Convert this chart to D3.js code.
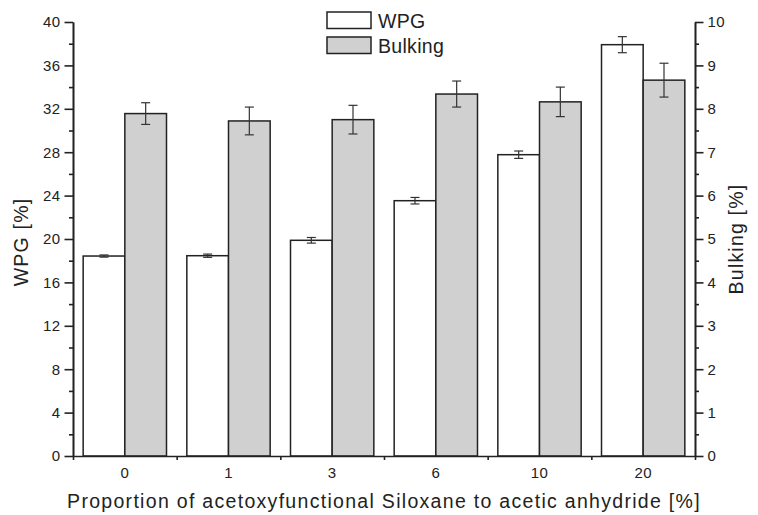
<!DOCTYPE html>
<html>
<head>
<meta charset="utf-8">
<script src="https://cdn.jsdelivr.net/npm/d3@7"></script>
<style>
  body { margin: 0; background: #fff; }
  text { font-family: "Liberation Sans", Arial, sans-serif; fill: #222; }
</style>
</head>
<body>
<div id="chart"></div>
<script>
'use strict'

// data
const categories = ['0', '1', '3', '6', '10', '20']
const wpg = [18.43, 18.46, 19.88, 23.53, 27.77, 37.91]
const wpgErr = [0.1, 0.15, 0.26, 0.3, 0.34, 0.74]
const bulking = [7.89, 7.72, 7.75, 8.34, 8.16, 8.66]
const bulkingErr = [0.25, 0.32, 0.33, 0.3, 0.34, 0.39]
const seriesNames = ['WPG', 'Bulking']
const leftTicks = [0, 4, 8, 12, 16, 20, 24, 28, 32, 36, 40]
const rightTicks = [0, 1, 2, 3, 4, 5, 6, 7, 8, 9, 10]

const svgWidth = 758
const svgHeight = 515
const margin = { left: 73, right: 63, top: 22, bottom: 59 }
const width = svgWidth - margin.left - margin.right
const height = svgHeight - margin.top - margin.bottom

const ink = '#222'
const fills = { WPG: '#ffffff', Bulking: '#d0d0d0' }

const svg = d3.select('#chart').append('svg')
    .attr('width', svgWidth)
    .attr('height', svgHeight)
    .append('g')
    .attr('transform', 'translate(' + margin.left + ',' + margin.top + ')')

// scales
const xScale = d3.scaleBand()
    .domain(categories)
    .range([0, width])
    .padding(0)

const xInner = d3.scaleBand()
    .domain(seriesNames)
    .range([0, xScale.bandwidth()])
    .paddingInner(0)
    .paddingOuter(0.244)

const yLeft = d3.scaleLinear().domain([0, 40]).range([height, 0])
const yRight = d3.scaleLinear().domain([0, 10]).range([height, 0])

// rows for drawing
const rows = categories.map((c, i) => [
    { cat: c, key: 'WPG', y: yLeft, v: wpg[i], e: wpgErr[i] },
    { cat: c, key: 'Bulking', y: yRight, v: bulking[i], e: bulkingErr[i] }
]).flat()

// bars
svg.selectAll('.bar')
    .data(rows)
    .enter()
    .append('rect')
    .attr('class', 'bar')
    .attr('x', d => xScale(d.cat) + xInner(d.key))
    .attr('y', d => d.y(d.v))
    .attr('width', xInner.bandwidth())
    .attr('height', d => height - d.y(d.v))
    .attr('fill', d => fills[d.key])
    .attr('stroke', ink)
    .attr('stroke-width', 1.5)

// error bars
const capW = 4.5
const err = svg.selectAll('.err')
    .data(rows)
    .enter()
    .append('g')
    .attr('class', 'err')
    .attr('stroke', '#333')
    .attr('stroke-width', 1.2)
    .attr('transform', d => 'translate(' + (xScale(d.cat) + xInner(d.key) + xInner.bandwidth() / 2) + ',0)')

err.append('line')
    .attr('y1', d => d.y(d.v + d.e))
    .attr('y2', d => d.y(d.v - d.e))
err.append('line')
    .attr('x1', -capW).attr('x2', capW)
    .attr('y1', d => d.y(d.v + d.e)).attr('y2', d => d.y(d.v + d.e))
err.append('line')
    .attr('x1', -capW).attr('x2', capW)
    .attr('y1', d => d.y(d.v - d.e)).attr('y2', d => d.y(d.v - d.e))

// left axis
const minorLeft = d3.range(0, 41, 2).filter(v => v % 4 !== 0)
svg.append('g')
    .attr('class', 'axis')
    .call(d3.axisLeft(yLeft).tickValues(minorLeft).tickSize(4).tickFormat('').tickSizeOuter(0))
svg.append('g')
    .attr('class', 'axis')
    .call(d3.axisLeft(yLeft).tickValues(leftTicks).tickSize(8.5).tickPadding(4).tickSizeOuter(0))

// right axis
const minorRight = d3.range(0.5, 10, 1)
svg.append('g')
    .attr('class', 'axis')
    .attr('transform', 'translate(' + width + ',0)')
    .call(d3.axisRight(yRight).tickValues(minorRight).tickSize(4).tickFormat('').tickSizeOuter(0))
svg.append('g')
    .attr('class', 'axis')
    .attr('transform', 'translate(' + width + ',0)')
    .call(d3.axisRight(yRight).tickValues(rightTicks).tickSize(8.5).tickPadding(4).tickSizeOuter(0))

// bottom axis: ticks at group boundaries, labels at group centres
const boundaries = d3.range(categories.length + 1).map(i => i * xScale.step())
const xBound = d3.scaleLinear().domain([0, width]).range([0, width])
svg.append('g')
    .attr('class', 'axis')
    .attr('transform', 'translate(0,' + height + ')')
    .call(d3.axisBottom(xBound).tickValues(boundaries).tickSize(4).tickFormat('').tickSizeOuter(0))
svg.append('g')
    .attr('class', 'axis xlabels')
    .attr('transform', 'translate(0,' + height + ')')
    .call(d3.axisBottom(xScale).tickSize(0).tickPadding(11))
    .select('.domain').remove()

svg.selectAll('.axis path, .axis line')
    .attr('stroke', ink)
    .attr('stroke-width', 1.6)
svg.selectAll('.axis')
    .attr('font-size', null)
    .attr('font-family', null)
svg.selectAll('.axis text')
    .style('font-size', '15px')
    .style('letter-spacing', '0.4px')
    .attr('fill', ink)

// axis titles
svg.append('text')
    .attr('x', width / 2)
    .attr('y', height + 52)
    .attr('text-anchor', 'middle')
    .attr('font-size', 19.5)
    .attr('letter-spacing', 1.3)
    .text('Proportion of acetoxyfunctional Siloxane to acetic anhydride [%]')

svg.append('text')
    .attr('transform', 'translate(' + (-45) + ',' + (height / 2 + 3) + ') rotate(-90)')
    .attr('text-anchor', 'middle')
    .attr('font-size', 19.5)
    .attr('letter-spacing', 1.2)
    .text('WPG [%]')

svg.append('text')
    .attr('transform', 'translate(' + (width + 48) + ',' + (height / 2) + ') rotate(-90)')
    .attr('text-anchor', 'middle')
    .attr('font-size', 19.5)
    .attr('letter-spacing', 1.2)
    .text('Bulking [%]')

// legend
const legend = svg.append('g')
    .attr('transform', 'translate(' + (327 - margin.left) + ',' + (12 - margin.top) + ')')
const item = legend.selectAll('.item')
    .data(seriesNames)
    .enter()
    .append('g')
    .attr('transform', (d, i) => 'translate(0,' + (i * 25) + ')')
item.append('rect')
    .attr('width', 44)
    .attr('height', 16.5)
    .attr('fill', d => fills[d])
    .attr('stroke', ink)
    .attr('stroke-width', 1.5)
item.append('text')
    .attr('x', 51)
    .attr('y', 15.5)
    .attr('font-size', 19.5)
    .attr('letter-spacing', 0.3)
    .text(d => d)
</script>
</body>
</html>
